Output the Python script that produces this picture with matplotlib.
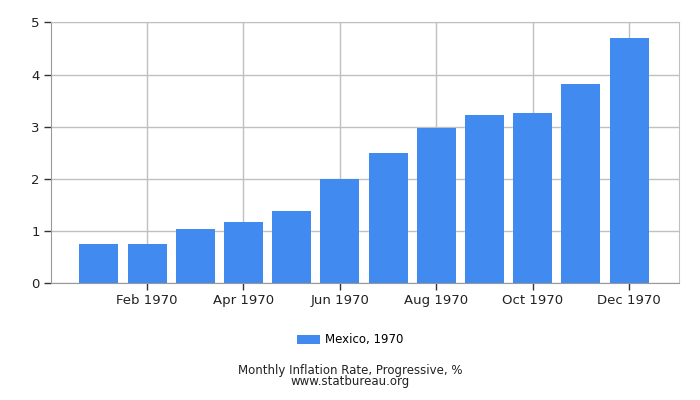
import matplotlib
matplotlib.use("Agg")
import matplotlib.pyplot as plt
from matplotlib.patches import Patch

months = ["Jan 1970", "Feb 1970", "Mar 1970", "Apr 1970", "May 1970", "Jun 1970",
          "Jul 1970", "Aug 1970", "Sep 1970", "Oct 1970", "Nov 1970", "Dec 1970"]
values = [0.75, 0.75, 1.04, 1.17, 1.38, 1.99, 2.50, 2.98, 3.22, 3.26, 3.82, 4.70]
series_name = "Mexico, 1970"
title = "Monthly Inflation Rate, Progressive, %"
source = "www.statbureau.org"

bar_color = "#418bf0"
grid_color = "#c0c0c0"

fig = plt.figure(figsize=(7, 4), dpi=100)
ax = fig.add_axes([50.7 / 700, 1 - 283.3 / 400, (678.7 - 50.7) / 700, (283.3 - 22.3) / 400])

x = list(range(len(months)))
ax.bar(x, values, width=0.81, color=bar_color, zorder=3)

ax.set_xlim(-1.0, 12.03)
ax.set_ylim(0, 5)
ax.set_yticks([0, 1, 2, 3, 4, 5])
ax.set_yticklabels(["0", "1", "2", "3", "4", "5"], fontsize=9.5, color="#222222")
tick_pos = x[1::2]
ax.set_xticks(tick_pos)
ax.set_xticklabels(months[1::2], fontsize=9.5, color="#222222")

ax.grid(True, color=grid_color, linewidth=1, zorder=0)
for s in ["top", "right"]:
    ax.spines[s].set_color(grid_color)
for s in ["left", "bottom"]:
    ax.spines[s].set_color("#999999")
ax.tick_params(axis="both", length=5, width=1, color="#333333", pad=3)

handles = [Patch(facecolor=bar_color, label=series_name)]
fig.legend(handles=handles, loc="center", bbox_to_anchor=(350 / 700, 1 - 340 / 400),
           frameon=False, fontsize=8.5, handlelength=2.0, handleheight=0.7, handletextpad=0.4)

fig.text(0.5, 1 - 376 / 400, title + "\n" + source, ha="center", va="center",
         fontsize=8.5, color="#222222", linespacing=0.8)

fig.savefig("out.png", dpi=100)
